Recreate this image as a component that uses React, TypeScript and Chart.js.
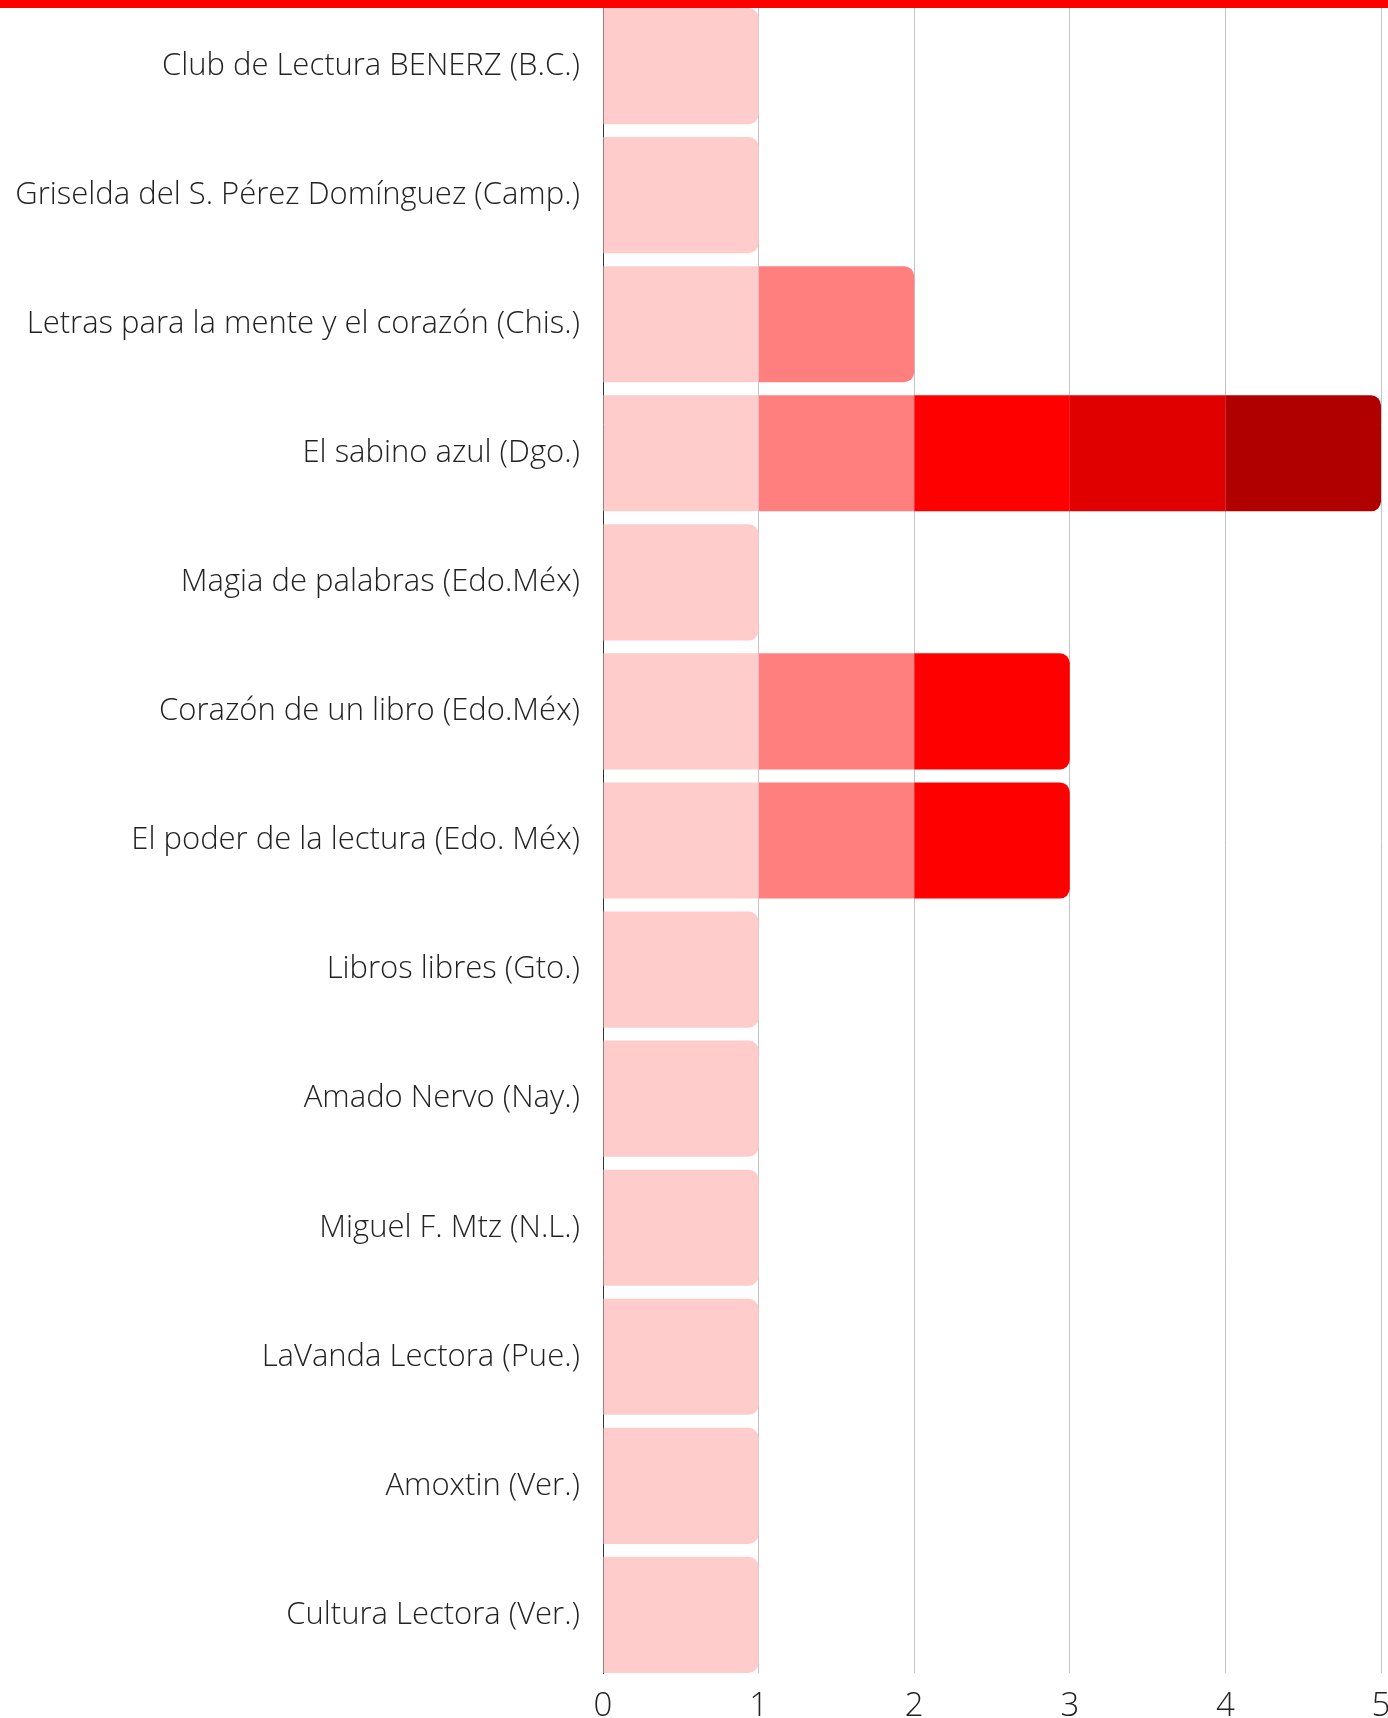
import React, { useEffect, useRef } from 'react';
import { Chart, registerables } from 'chart.js';

Chart.register(...registerables);

// ---- data ----
const categories: string[] = [
  'Club de Lectura BENERZ (B.C.)',
  'Griselda del S. Pérez Domínguez (Camp.)',
  'Letras para la mente y el corazón (Chis.)',
  'El sabino azul (Dgo.)',
  'Magia de palabras (Edo.Méx)',
  'Corazón de un libro (Edo.Méx)',
  'El poder de la lectura (Edo. Méx)',
  'Libros libres (Gto.)',
  'Amado Nervo (Nay.)',
  'Miguel F. Mtz (N.L.)',
  'LaVanda Lectora (Pue.)',
  'Amoxtin (Ver.)',
  'Cultura Lectora (Ver.)',
];

const series1: (number | null)[] = [1, 1, 1, 1, 1, 1, 1, 1, 1, 1, 1, 1, 1];
const series2: (number | null)[] = [null, null, 1, 1, null, 1, 1, null, null, null, null, null, null];
const series3: (number | null)[] = [null, null, null, 1, null, 1, 1, null, null, null, null, null, null];
const series4: (number | null)[] = [null, null, null, 1, null, null, null, null, null, null, null, null, null];
const series5: (number | null)[] = [null, null, null, 1, null, null, null, null, null, null, null, null, null];

const seriesNames: string[] = ['1', '2', '3', '4', '5'];
const seriesColors: string[] = ['#ffcccc', '#ff7f7f', '#ff0000', '#e00000', '#b00000'];

const xMin = 0;
const xMax = 5;
const xStep = 1;

const allSeries = [series1, series2, series3, series4, series5];

const FONT_FAMILY = "'Open Sans', 'Noto Sans', sans-serif";

export default function App() {
  const canvasRef = useRef<HTMLCanvasElement | null>(null);

  useEffect(() => {
    document.body.style.margin = '0';
    const canvas = canvasRef.current;
    if (!canvas) return;

    const chart = new Chart(canvas, {
      type: 'bar',
      data: {
        labels: categories,
        datasets: allSeries.map((data, i) => ({
          label: seriesNames[i],
          data,
          backgroundColor: seriesColors[i],
          borderWidth: 0,
          borderRadius: 10,
          borderSkipped: 'start',
          barPercentage: 0.9,
          categoryPercentage: 1,
          stack: 'clubs',
        })),
      },
      options: {
        indexAxis: 'y',
        responsive: false,
        maintainAspectRatio: false,
        animation: false,
        layout: { padding: { top: 8, right: 19, bottom: 0, left: 0 } },
        plugins: {
          legend: { display: false },
          tooltip: { enabled: false },
        },
        scales: {
          x: {
            type: 'linear',
            position: 'bottom',
            stacked: true,
            min: xMin,
            max: xMax,
            ticks: {
              stepSize: xStep,
              padding: 14,
              color: '#222222',
              font: { family: FONT_FAMILY, size: 33, weight: '300' as any },
            },
            grid: { color: '#c4c4c4', lineWidth: 1, drawTicks: false },
            border: { display: false },
            afterFit: (s: any) => {
              s.height = 45;
              s.paddingLeft = 0;
              s.paddingRight = 0;
            },
          },
          y: {
            type: 'category',
            stacked: true,
            offset: true,
            grid: { display: false, drawTicks: false },
            border: { display: true, color: '#333333', width: 1 },
            ticks: {
              padding: 23,
              color: '#222222',
              font: { family: FONT_FAMILY, size: 31, weight: '300' as any },
            },
            afterBuildTicks: (s: any) => {
              s._startValue = -0.45;
              s._valueRange = categories.length - 0.1;
            },
            afterFit: (s: any) => {
              s.width = 603;
              s.paddingTop = 0;
              s.paddingBottom = 0;
            },
          },
        },
      } as any,
    });

    return () => chart.destroy();
  }, []);

  return (
    <div
      style={{
        position: 'absolute',
        left: 0,
        top: 0,
        width: 1388,
        height: 1718,
        overflow: 'hidden',
        background: '#ffffff',
      }}
    >
      <canvas
        ref={canvasRef}
        width={1400}
        height={1718}
        style={{ display: 'block', width: 1400, height: 1718 }}
      />
      <div
        style={{
          position: 'absolute',
          left: 0,
          top: 0,
          width: 1388,
          height: 8,
          background: '#ff0000',
        }}
      />
    </div>
  );
}
